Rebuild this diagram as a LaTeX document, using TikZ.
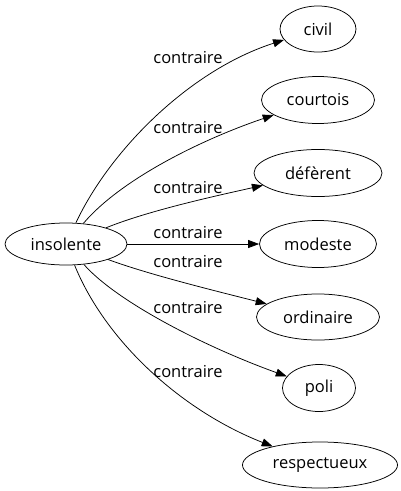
\documentclass[tikz,border=0pt]{standalone}
\usepackage{fontspec}
\setmainfont{Open Sans}
\usetikzlibrary{shapes.geometric,arrows.meta}
\begin{document}
\begin{tikzpicture}[x=1pt,y=-1pt,
  word/.style={draw,ellipse,inner sep=0pt,line width=0.75pt,font=\fontsize{16.5}{19}\selectfont},
  lbl/.style={font=\fontsize{16.5}{19}\selectfont,inner sep=0pt},
  rel/.style={-{Triangle[length=11pt,width=8pt]},line width=0.75pt}]
\useasboundingbox (0,0) rectangle (400,491);
\node[word,minimum width=122pt,minimum height=42pt] (ins) at (66,244) {insolente};
\node[word,minimum width=76pt,minimum height=46pt] (civil) at (318,29) {civil};
\node[word,minimum width=113pt,minimum height=47pt] (courtois) at (318,100) {courtois};
\node[word,minimum width=128pt,minimum height=47pt] (deferent) at (318,173) {défèrent};
\node[word,minimum width=117pt,minimum height=47pt] (modeste) at (318,244) {modeste};
\node[word,minimum width=123pt,minimum height=46pt] (ordinaire) at (318,317) {ordinaire};
\node[word,minimum width=73pt,minimum height=47pt] (poli) at (319,388) {poli};
\node[word,minimum width=155pt,minimum height=46pt] (respectueux) at (320,465) {respectueux};
\draw[rel] (ins) .. controls (110,150) and (190,70) .. (civil);
\draw[rel] (ins) .. controls (120,180) and (200,140) .. (courtois);
\draw[rel] (ins) .. controls (150,210) and (220,195) .. (deferent);
\draw[rel] (ins) -- (modeste);
\draw[rel] (ins) .. controls (150,275) and (220,292) .. (ordinaire);
\draw[rel] (ins) .. controls (115,300) and (200,345) .. (poli);
\draw[rel] (ins) .. controls (105,340) and (180,410) .. (respectueux);
\node[lbl] (l1) at (188,58) {contraire};
\node[lbl] (l2) at (188,128) {contraire};
\node[lbl] (l3) at (188,188) {contraire};
\node[lbl] (l4) at (188,233) {contraire};
\node[lbl] (l5) at (188,262) {contraire};
\node[lbl] (l6) at (188,308) {contraire};
\node[lbl] (l7) at (188,372) {contraire};
\end{tikzpicture}
\end{document}
